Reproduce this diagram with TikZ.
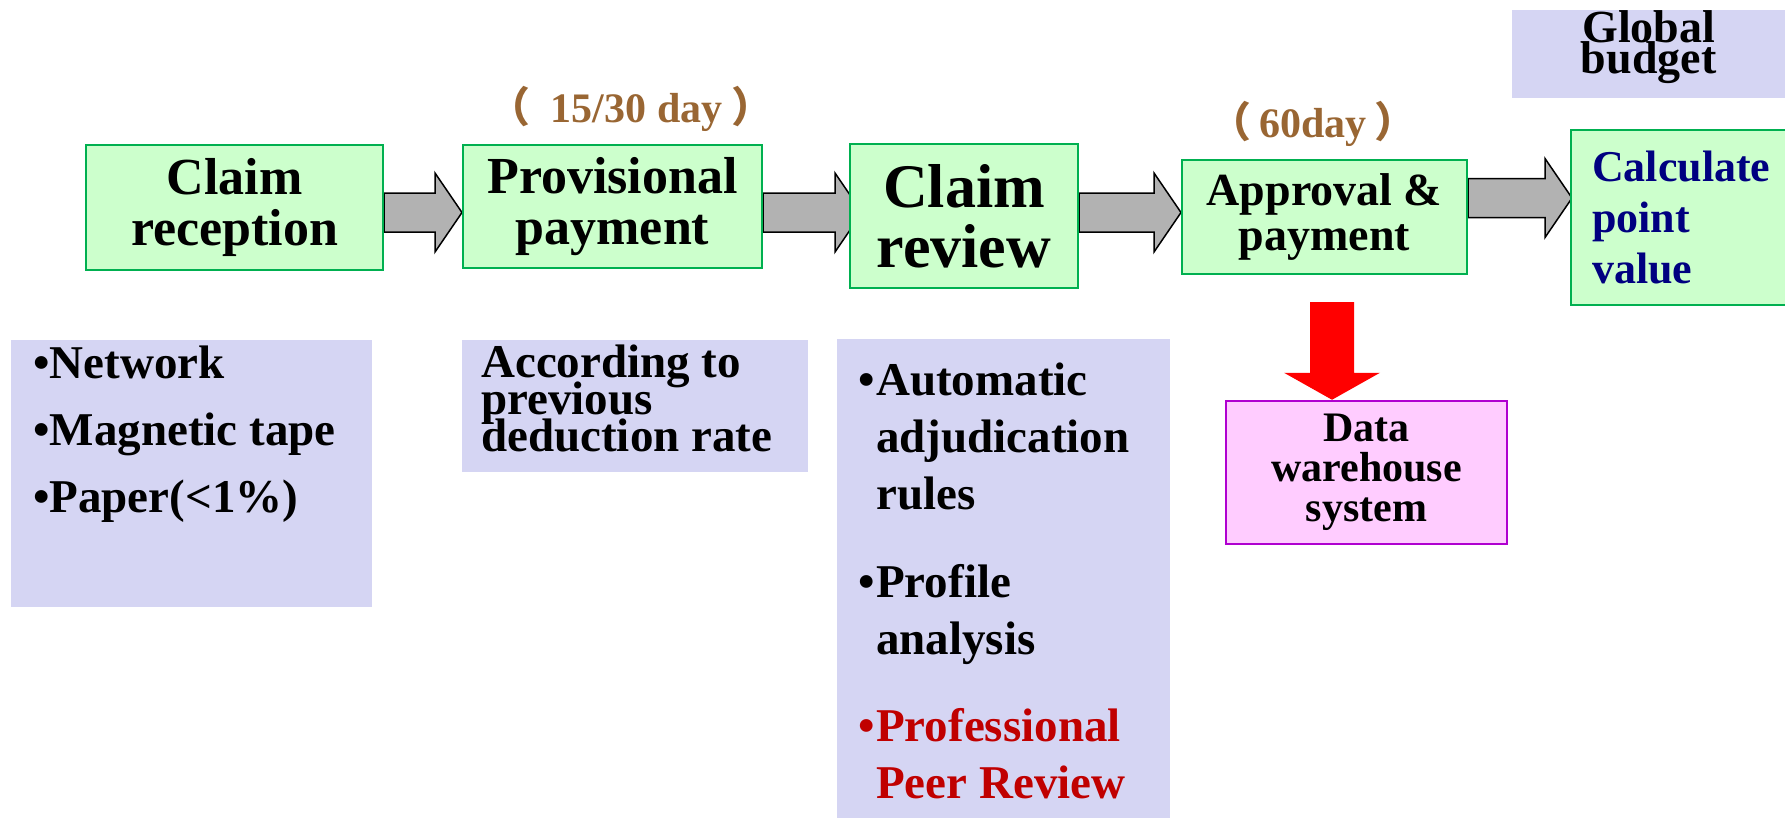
\documentclass[tikz,border=0pt]{standalone}
\usepackage{fontspec}
\setmainfont{Liberation Serif}
\newfontfamily\cjk{Noto Sans CJK SC}
\usepackage{tikz}
\usetikzlibrary{positioning, calc}

\definecolor{boxgreen}{HTML}{CCFFCC}
\definecolor{edgegreen}{HTML}{00B050}
\definecolor{notelilac}{HTML}{D5D5F3}
\definecolor{dwpink}{HTML}{FFCCFF}
\definecolor{dwedge}{HTML}{B000D0}
\definecolor{daybrown}{HTML}{996633}
\definecolor{calcnavy}{HTML}{000080}
\definecolor{peerred}{HTML}{C00000}
\definecolor{flowgray}{HTML}{B2B2B2}

\pgfdeclarelayer{back}
\pgfsetlayers{back,main}

\tikzset{
  procbox/.style={draw=edgegreen, fill=boxgreen, line width=2pt, inner sep=0pt, align=center},
  notebox/.style={fill=notelilac, inner sep=0pt, anchor=north west},
  days/.style={text=daybrown, anchor=base, font=\bfseries\fontsize{42}{42}\selectfont},
  grayarrow/.style={draw=black, fill=flowgray, line width=1.5pt, line join=miter},
}

% block arrow: from, to, level, overshoot
\newcommand{\flowarrow}[4]{%
  \path (0,#3) coordinate (lvl);
  \draw[grayarrow] let \p1=(#1.east), \p2=($(#2.west)+(#4,0)$), \p3=(lvl) in
    (\x1,\y3+19.5pt) -- (\x2-27pt,\y3+19.5pt) -- (\x2-27pt,\y3+39.5pt) -- (\x2,\y3)
    -- (\x2-27pt,\y3-39.5pt) -- (\x2-27pt,\y3-19.5pt) -- (\x1,\y3-19.5pt) -- cycle;}
\newcommand{\bitem}[1]{\par\noindent\hangindent=18pt\hangafter=1\makebox[18pt][l]{•}#1\par}
\newcommand{\tightlines}{\lineskiplimit=-\maxdimen\normallineskiplimit=-\maxdimen}
\tightlines

\begin{document}
\begin{tikzpicture}[x=1pt, y=-1pt]
	\useasboundingbox (0,0) rectangle (1785,817);

	\node[procbox, minimum width=297, minimum height=125, font=\bfseries\fontsize{52}{51}\selectfont] (recv) at (234.5,207.5) {Claim\\reception};
	\node[procbox, minimum width=299, minimum height=123, font=\bfseries\fontsize{52}{51}\selectfont] (prov) at (612.5,206.5) {Provisional\\payment};
	\node[procbox, minimum width=228, minimum height=144, font=\bfseries\fontsize{62}{60}\selectfont] (review) at (964,216) {Claim\\review};
	\node[procbox, minimum width=285, minimum height=114, font=\bfseries\fontsize{46}{45}\selectfont] (approve) at (1324.5,217) {Approval \&\\payment};
	\node[procbox, minimum width=229, minimum height=175, inner xsep=21pt, text width=187pt, align=left, text=calcnavy,
	      font=\bfseries\fontsize{44}{51}\selectfont] (calc) at (1685.5,217.5) {Calculate\\point\\value};

	\node[notebox, font=\bfseries\fontsize{46}{31}\selectfont] (budget) at (1512,10) {\parbox[t][88pt][t]{273pt}{\tightlines\centering Global\\budget}};

	\node[days] (provdays) at (631,122) {{\cjk （}\hspace{10pt} 15/30 day\hspace{9pt}{\cjk ）}};
	\node[days] (apprdays) at (1313,137) {{\cjk （}\hspace{8pt}60day\hspace{8pt}{\cjk ）}};

	\begin{pgfonlayer}{back}
		\flowarrow{recv}{prov}{212.5}{0}
		\flowarrow{prov}{review}{212.5}{13}
		\flowarrow{review}{approve}{212.5}{0}
		\flowarrow{approve}{calc}{198}{2}
	\end{pgfonlayer}

	\node[notebox, inner xsep=22pt, inner ysep=6pt, font=\bfseries\fontsize{47}{67}\selectfont] (recvnote) at (11,340)
	     {\parbox[t][255pt][t]{317pt}{•Network\\•Magnetic tape\\•Paper(<1\%)}};
	\node[notebox, inner xsep=19pt, inner ysep=5pt, font=\bfseries\fontsize{47}{37}\selectfont] (provnote) at (462,340)
	     {\parbox[t][122pt][t]{308pt}{\tightlines According to\\previous\\deduction rate}};
	\node[notebox, inner xsep=21pt, inner ysep=24pt, font=\bfseries\fontsize{47}{57}\selectfont] (reviewnote) at (837,339)
	     {\parbox[t][448pt][t]{291pt}{\setlength{\parskip}{30.5pt}%
	      \bitem{Automatic\\adjudication\\rules}
	      \bitem{Profile\\analysis}
	      \color{peerred}\bitem{Professional\\Peer Review}}};

	\node[draw=dwedge, fill=dwpink, line width=2.5pt, minimum width=281, minimum height=143, align=center,
	      font=\bfseries\fontsize{42}{40}\selectfont] (dw) at (1366.5,472.5) {Data\\warehouse\\system};

	\coordinate (dwtop) at (1332,302);
	\fill[red] let \p1=(dwtop), \p2=(dw.north) in (\x1-22pt,\y1) -- (\x1+22pt,\y1) -- (\x1+22pt,\y2+27pt)
	  -- (\x1+48pt,\y2+27pt) -- (\x1,\y2) -- (\x1-48pt,\y2+27pt) -- (\x1-22pt,\y2+27pt) -- cycle;
\end{tikzpicture}
\end{document}
